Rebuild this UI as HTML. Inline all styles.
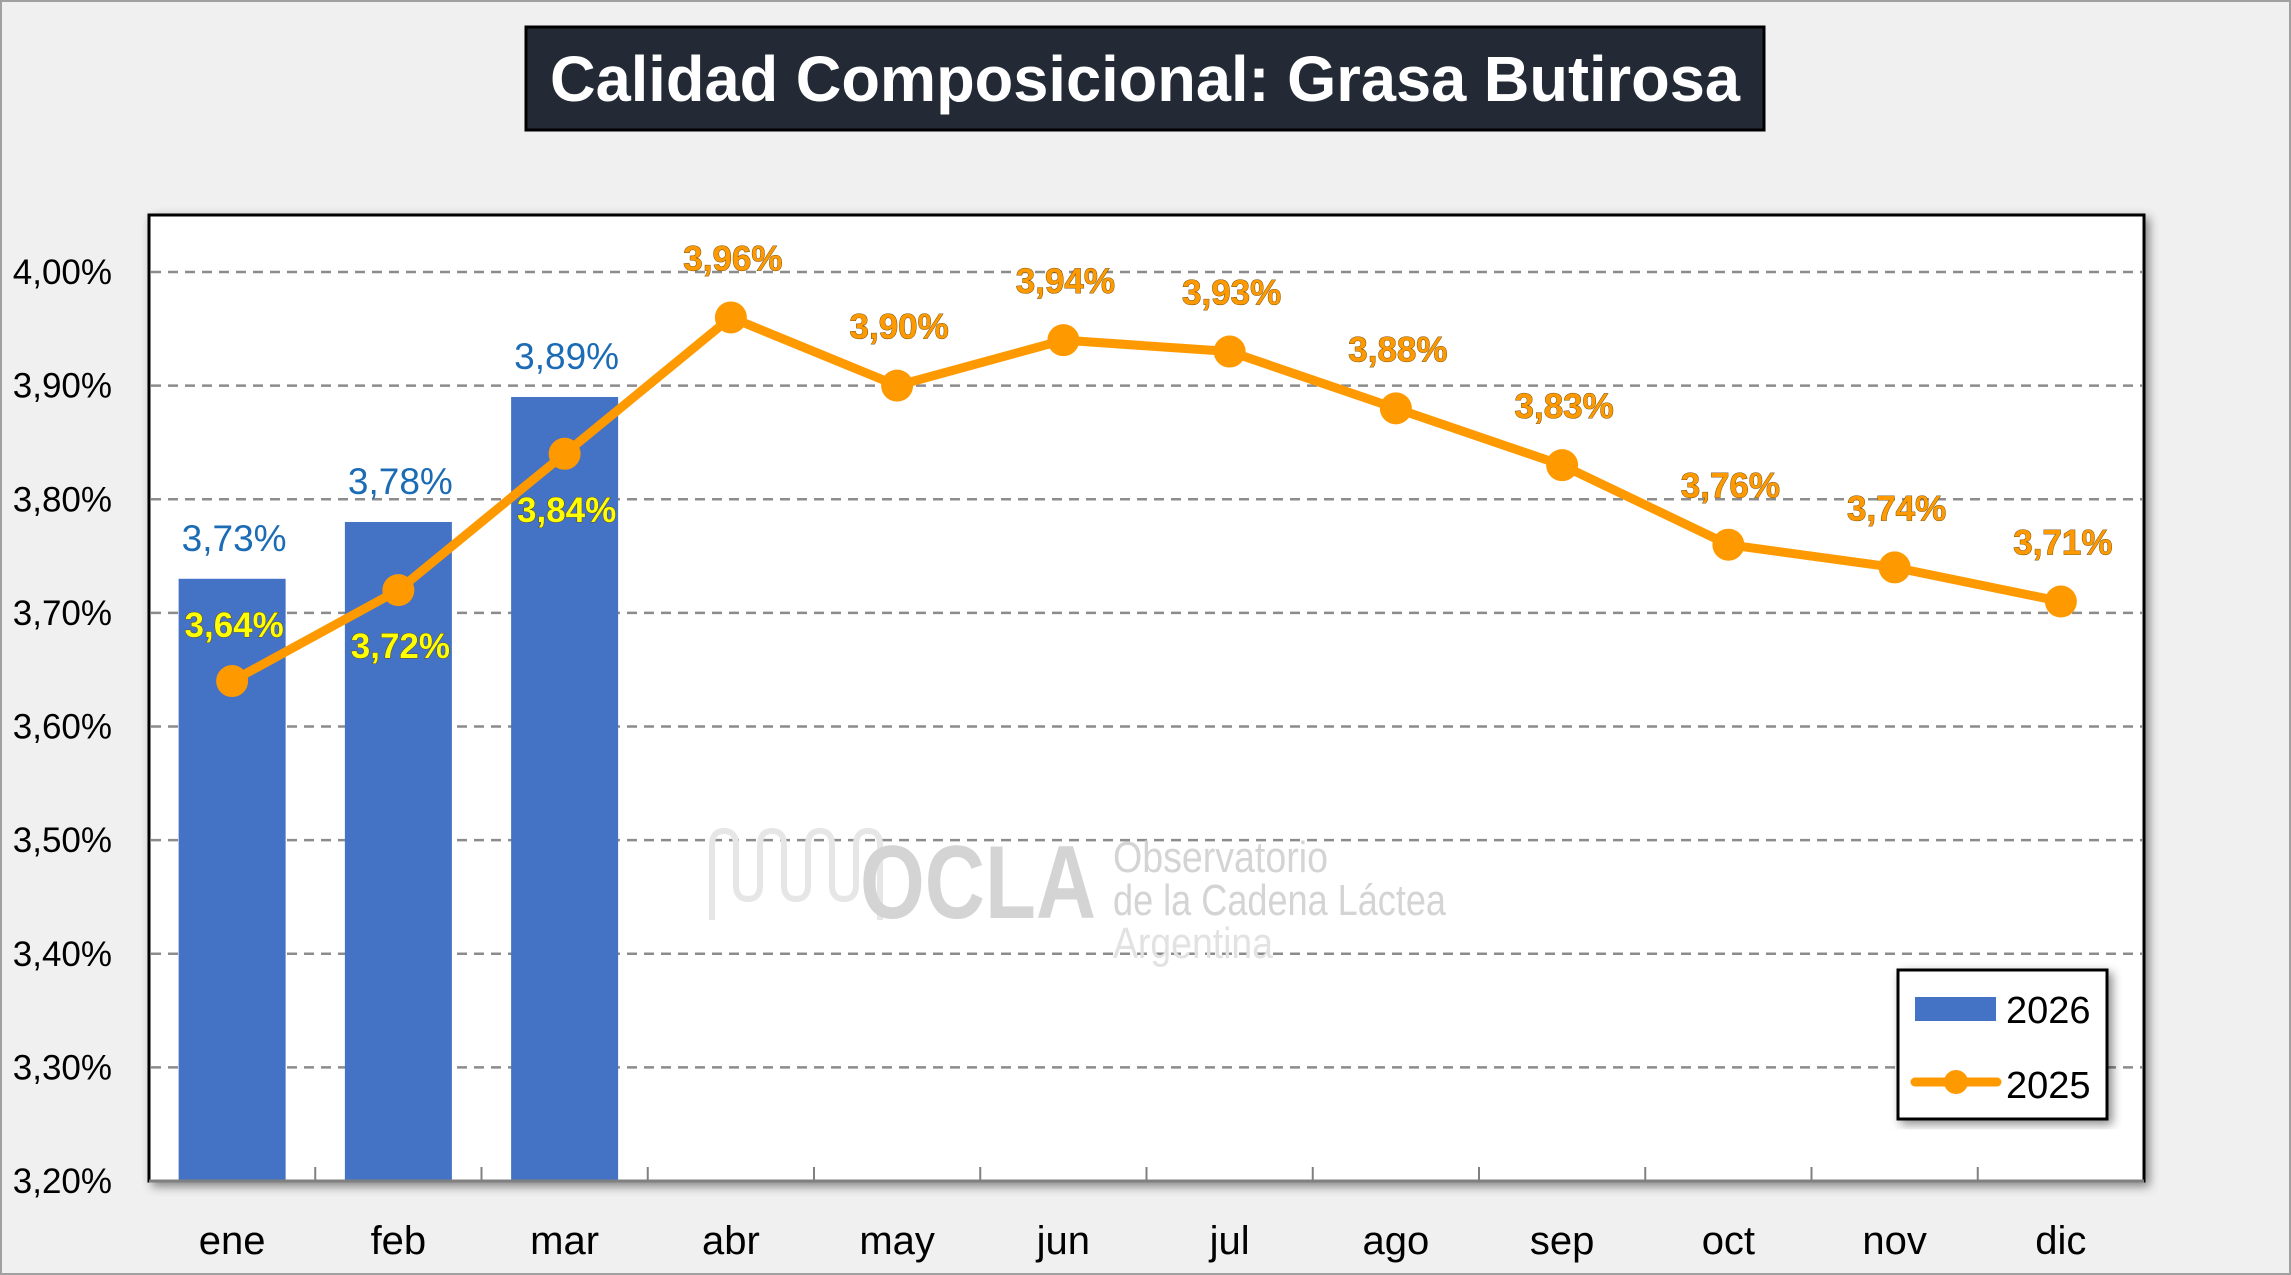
<!DOCTYPE html>
<html><head><meta charset="utf-8"><style>
html,body{margin:0;padding:0;background:#f0f0f0;}
svg{display:block;font-family:"Liberation Sans",sans-serif;}
</style></head><body>
<svg id="chart" width="2291" height="1275" viewBox="0 0 2291 1275" xmlns="http://www.w3.org/2000/svg">
<defs>
<filter id="sh" x="-5%" y="-5%" width="112%" height="112%"><feDropShadow dx="4" dy="4" stdDeviation="5" flood-color="#000" flood-opacity="0.45"/></filter>
</defs>
<rect x="0" y="0" width="2291" height="1275" fill="#f0f0f0"/>
<rect x="1" y="1" width="2289" height="1273" fill="none" stroke="#a0a0a0" stroke-width="2"/>
<g>
<rect x="526" y="27" width="1238" height="103" fill="#232a35" stroke="#000" stroke-width="3"/>
<text x="1145" y="101" text-anchor="middle" font-size="64" font-weight="bold" fill="#fff" textLength="1190" lengthAdjust="spacingAndGlyphs">Calidad Composicional: Grasa Butirosa</text>
</g>
<rect x="149" y="215" width="1995" height="966" fill="#fff" stroke="#000" stroke-width="3" filter="url(#sh)"/>
<g id="grid"></g>
<g>
<path d="M712 920 V845 q0-14 12-14 q12 0 12 14 V885 q0 14 12 14 q12 0 12-14 V845 q0-14 12-14 q12 0 12 14 V885 q0 14 12 14 q12 0 12-14 V845 q0-14 12-14 q12 0 12 14 V885 q0 14 12 14 q12 0 12-14 V845 q0-14 12-14 q12 0 12 14 V920" fill="none" stroke="#e6e6e6" stroke-width="6"/>
<text x="860" y="918" font-size="104" font-weight="bold" fill="#d4d4d4" textLength="236" lengthAdjust="spacingAndGlyphs">OCLA</text>
<text x="1113" y="872" font-size="44" fill="#d4d4d4" textLength="215" lengthAdjust="spacingAndGlyphs">Observatorio</text>
<text x="1113" y="915" font-size="44" fill="#d4d4d4" textLength="333" lengthAdjust="spacingAndGlyphs">de la Cadena Láctea</text>
<text x="1113" y="958" font-size="44" fill="#e2e2e2" textLength="160" lengthAdjust="spacingAndGlyphs">Argentina</text>
</g>
<g id="bars"></g>
<g id="line"></g>
<g id="labels"></g>
<g id="axes"></g>
<g>
<rect x="1898" y="970" width="209" height="149" fill="#fff" stroke="#000" stroke-width="3" filter="url(#sh)"/>
<rect x="1915" y="997" width="81" height="24" fill="#4472c4"/>
<text x="2006" y="1023" font-size="38" fill="#000">2026</text>
<line x1="1915" y1="1082" x2="1997" y2="1082" stroke="#ff9900" stroke-width="9" stroke-linecap="round"/>
<circle cx="1956" cy="1082" r="12" fill="#ff9900"/>
<text x="2006" y="1098" font-size="38" fill="#000">2025</text>
</g>
</svg>
<script>
const categories = ["ene","feb","mar","abr","may","jun","jul","ago","sep","oct","nov","dic"];
const series2026 = [3.73,3.78,3.89];
const series2025 = [3.64,3.72,3.84,3.96,3.90,3.94,3.93,3.88,3.83,3.76,3.74,3.71];
const yTicks = [3.2,3.3,3.4,3.5,3.6,3.7,3.8,3.9,4.0];
const yTickLabels = ["3,20%","3,30%","3,40%","3,50%","3,60%","3,70%","3,80%","3,90%","4,00%"];

const NS="http://www.w3.org/2000/svg";
const plotL=149, plotR=2144, yMin=3.2, yMax=4.0, yBot=1181, yTop=272;
const step=(plotR-plotL)/categories.length;
function xs(i){return plotL+step*(i+0.5);}
function ys(v){return yBot-(v-yMin)/(yMax-yMin)*(yBot-yTop);}
function mk(tag,attrs,parent){const e=document.createElementNS(NS,tag);for(const k in attrs)e.setAttribute(k,attrs[k]);parent.appendChild(e);return e;}
function fmt(v){return v.toFixed(2).replace('.',',')+'%';}

const grid=document.getElementById('grid');
yTicks.forEach((t,i)=>{
  if(i>0){
    const l=mk('line',{x1:plotL+2,x2:plotR-2,y1:ys(t),y2:ys(t),stroke:'#8c8c8c','stroke-width':2.5,'stroke-dasharray':'10 7'},grid);
    
    
  }
  const tx=mk('text',{x:112,y:ys(t)+12,'text-anchor':'end','font-size':35,fill:'#000'},grid);
  tx.textContent=yTickLabels[i];
  
  
});

const bars=document.getElementById('bars');
const bw=107;
series2026.forEach((v,i)=>{
  const r=mk('rect',{x:xs(i)-bw/2,y:ys(v),width:bw,height:yBot-ys(v),fill:'#4472c4'},bars);
  
  
});

const line=document.getElementById('line');
const pts=series2025.map((v,i)=>xs(i)+','+ys(v)).join(' ');
const pl=mk('polyline',{points:pts,fill:'none',stroke:'#ff9900','stroke-width':9,'stroke-linejoin':'round'},line);


series2025.forEach((v,i)=>{
  const c=mk('circle',{cx:xs(i),cy:ys(v),r:16,fill:'#ff9900'},line);
  
  
});

const labels=document.getElementById('labels');
series2026.forEach((v,i)=>{
  const t=mk('text',{x:xs(i)+2,y:ys(v)-28,'text-anchor':'middle','font-size':37,fill:'#1b6bb5'},labels);
  t.textContent=fmt(v);
  
  
});
series2025.forEach((v,i)=>{
  let y, fill;
  if(i<series2026.length){
    fill='#ffff00';
    y = (i===0) ? ys(v)-44 : ys(v)+68;
  } else { fill='#ff9900'; y=ys(v)-47; }
  const t=mk('text',{x:xs(i)+2,y:y,'text-anchor':'middle','font-size':35,'font-weight':'bold',fill:fill,stroke:'#5a3a00','stroke-width':0.8,'paint-order':'stroke'},labels);
  t.textContent=fmt(v);
  
  
});

const axes=document.getElementById('axes');
const ax=mk('line',{x1:plotL,x2:plotR,y1:yBot,y2:yBot,stroke:'#808080','stroke-width':3},axes);


for(let i=1;i<categories.length;i++){
  const tk=mk('line',{x1:plotL+step*i,x2:plotL+step*i,y1:yBot,y2:yBot-14,stroke:'#808080','stroke-width':2},axes);
  
  
}
categories.forEach((c,i)=>{
  const t=mk('text',{x:xs(i),y:1254,'text-anchor':'middle','font-size':40,fill:'#000'},axes);
  t.textContent=c;
  
  
});
</script>
</body></html>
